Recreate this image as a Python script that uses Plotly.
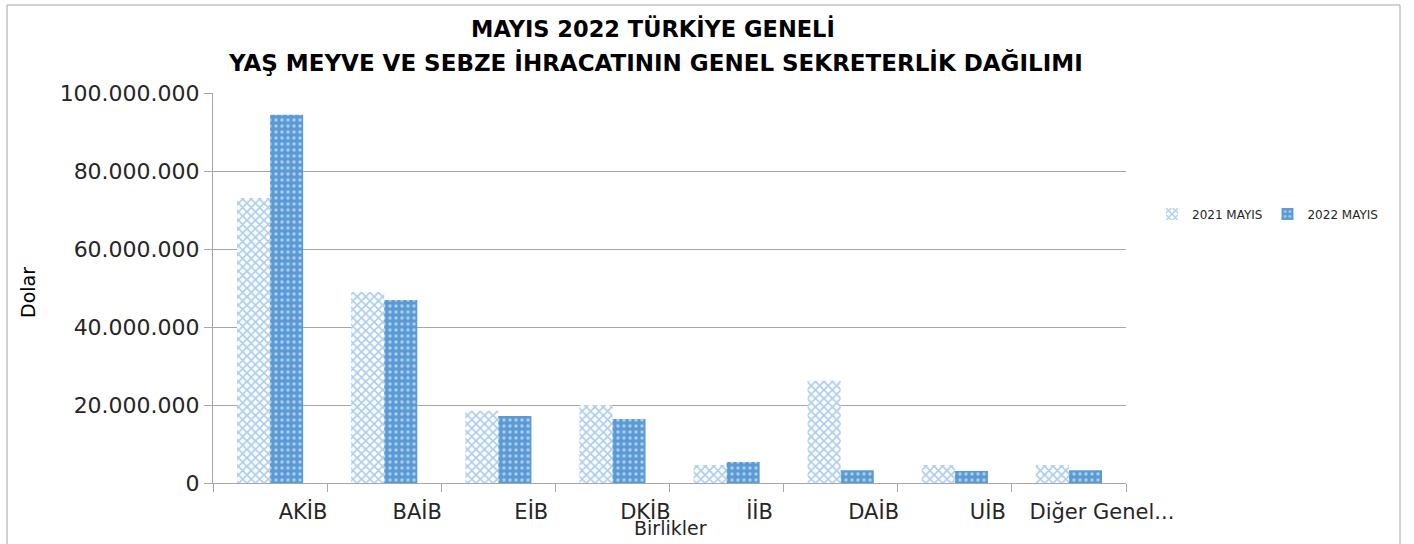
import plotly.graph_objects as go

categories = ["AKİB", "BAİB", "EİB", "DKİB", "İİB", "DAİB", "UİB", "Diğer Genel..."]
may_2021 = [73_100_000, 49_000_000, 18_500_000, 20_000_000, 4_600_000, 26_200_000, 4_600_000, 4_600_000]
may_2022 = [94_400_000, 46_900_000, 17_200_000, 16_400_000, 5_400_000, 3_300_000, 3_100_000, 3_300_000]
y_ticks = [0, 20_000_000, 40_000_000, 60_000_000, 80_000_000, 100_000_000]
y_tick_text = ["0", "20.000.000", "40.000.000", "60.000.000", "80.000.000", "100.000.000"]

BLUE = "#5b9bd5"
FONT = "DejaVu Sans"
TXT = "#262626"

fig = go.Figure()
fig.add_trace(go.Bar(
    name="2021 MAYIS", x=categories, y=may_2021,
    marker=dict(color="white", line=dict(width=0),
                pattern=dict(shape="x", fgcolor=BLUE, bgcolor="white", size=6, solidity=0.5)),
))
fig.add_trace(go.Bar(
    name="2022 MAYIS", x=categories, y=may_2022,
    marker=dict(color=BLUE, line=dict(width=0),
                pattern=dict(shape=".", fgcolor="white", bgcolor=BLUE, size=6, solidity=0.25)),
))

L, R, T, B = 213, 288, 93, 61
W, H = 1414, 544
pw, ph = W - L - R, H - T - B

def px_x(p):
    return (p - L) / pw

def px_y(p):
    return (H - B - p) / ph

fig.update_layout(
    width=W, height=H,
    margin=dict(l=L, r=R, t=T, b=B, autoexpand=False),
    plot_bgcolor="white", paper_bgcolor="white",
    barmode="group", bargap=0.42, bargroupgap=0,
    font=dict(family=FONT, color=TXT),
    showlegend=True,
    legend=dict(x=px_x(1152), y=px_y(214), xanchor="left", yanchor="middle",
                orientation="h", font=dict(size=12, color=TXT),
                itemwidth=30, tracegroupgap=0),
    xaxis=dict(
        showgrid=False, showline=True, linecolor="#a6a6a6", linewidth=1,
        ticks="outside", tickson="boundaries", ticklen=8, tickcolor="#a6a6a6",
        tickfont=dict(size=21, color=TXT), tickangle=0,
        ticklabelshift=33, ticklabelstandoff=10,
    ),
    yaxis=dict(
        range=[0, 100_000_000], tickvals=y_ticks, ticktext=y_tick_text,
        showgrid=True, gridcolor="#a6a6a6", gridwidth=1,
        showline=True, linecolor="#a6a6a6", linewidth=1,
        ticks="outside", ticklen=8, tickcolor="#a6a6a6",
        tickfont=dict(size=22, color=TXT),
        zeroline=False,
    ),
    annotations=[
        dict(text="<b>MAYIS 2022 TÜRKİYE GENELİ</b>", xref="paper", yref="paper",
             x=px_x(653), y=px_y(29), showarrow=False, xanchor="center", yanchor="middle",
             font=dict(size=22.5, color="#000000", family=FONT)),
        dict(text="<b>YAŞ MEYVE VE SEBZE İHRACATININ GENEL SEKRETERLİK DAĞILIMI</b>", xref="paper", yref="paper",
             x=px_x(655), y=px_y(62), showarrow=False, xanchor="center", yanchor="middle",
             font=dict(size=23, color="#000000", family=FONT)),
        dict(text="Dolar", xref="paper", yref="paper", textangle=-90,
             x=px_x(28), y=px_y(293), showarrow=False, xanchor="center", yanchor="middle",
             font=dict(size=19, color="#000000", family=FONT)),
        dict(text="Birlikler", xref="paper", yref="paper",
             x=px_x(670), y=px_y(528), showarrow=False, xanchor="center", yanchor="middle",
             font=dict(size=19, color=TXT, family=FONT)),
    ],
    shapes=[
        dict(type="rect", xref="paper", yref="paper",
             x0=px_x(7), x1=px_x(1400), y0=px_y(560), y1=px_y(5),
             line=dict(color="#a6a6a6", width=1), fillcolor="rgba(0,0,0,0)", layer="below"),
    ],
)

fig.write_html("out.html", config={"displayModeBar": False},
               post_script="document.body.style.margin='0px';document.body.style.overflow='hidden';")
